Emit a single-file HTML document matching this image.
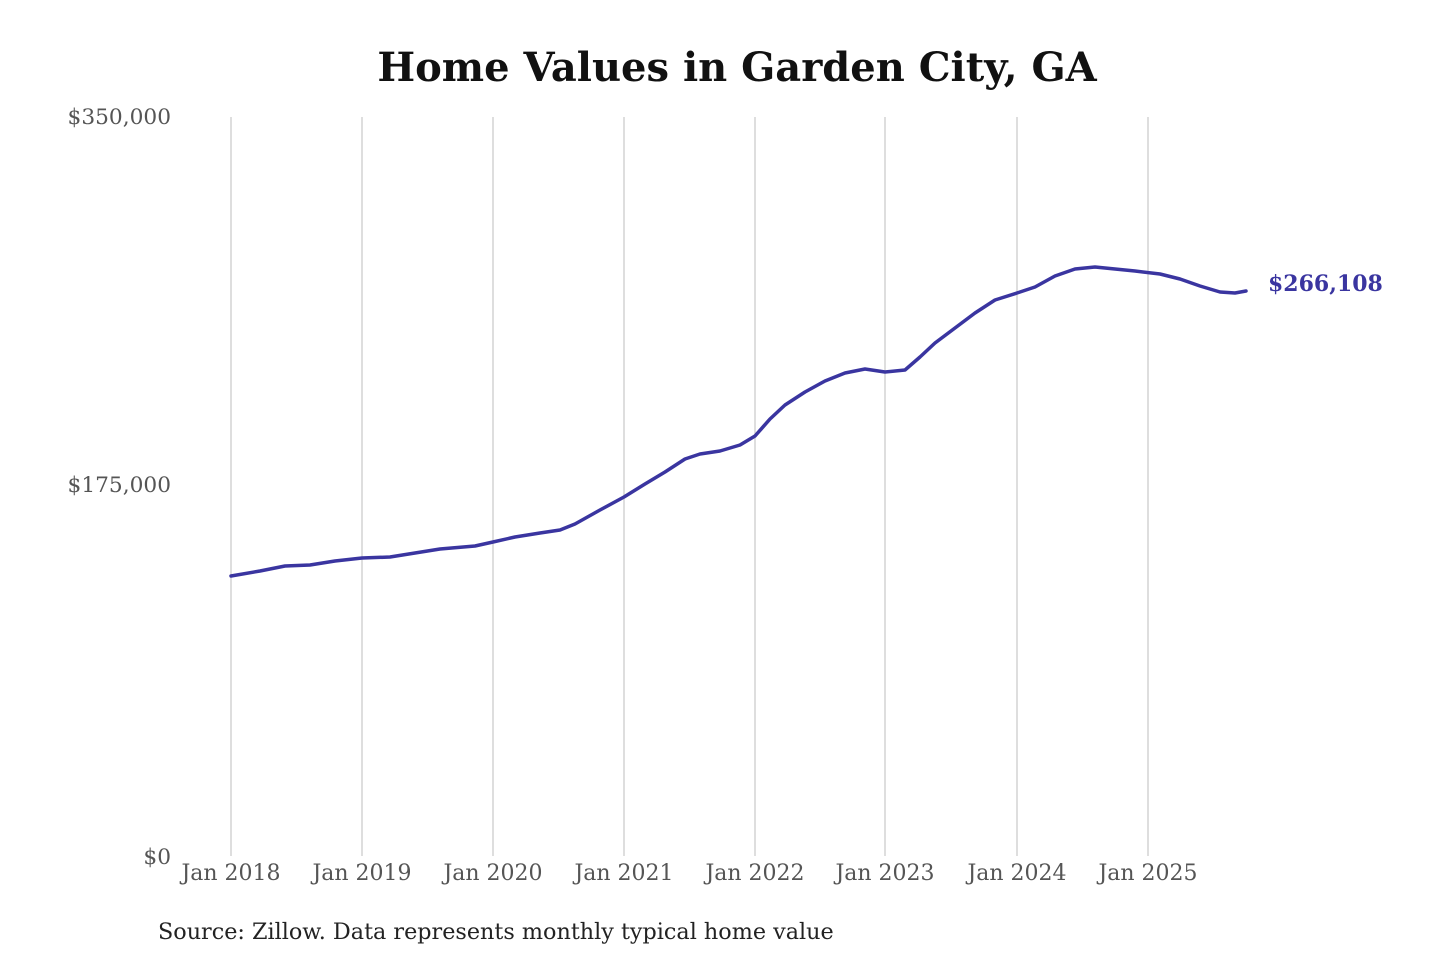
<!DOCTYPE html>
<html><head><meta charset="utf-8"><style>
html,body{margin:0;padding:0;background:#fff;}
svg{display:block;}
</style></head><body>
<svg width="1440" height="960" xmlns="http://www.w3.org/2000/svg" font-family="'DejaVu Serif','Liberation Serif',serif">
<rect width="1440" height="960" fill="#fff"/>
<text x="737" y="81" text-anchor="middle" font-size="40" font-weight="bold" fill="#111">Home Values in Garden City, GA</text>
<g stroke="#c8c8c8" stroke-width="1.2">
<line x1="231" y1="117" x2="231" y2="856"/>
<line x1="362" y1="117" x2="362" y2="856"/>
<line x1="493" y1="117" x2="493" y2="856"/>
<line x1="624" y1="117" x2="624" y2="856"/>
<line x1="755" y1="117" x2="755" y2="856"/>
<line x1="885" y1="117" x2="885" y2="856"/>
<line x1="1017" y1="117" x2="1017" y2="856"/>
<line x1="1148" y1="117" x2="1148" y2="856"/>
</g>
<g font-size="21.7" fill="#555" text-anchor="end">
<text x="171" y="124">$350,000</text>
<text x="171" y="492">$175,000</text>
<text x="171" y="864">$0</text>
</g>
<g font-size="22" fill="#555" text-anchor="middle">
<text x="231" y="880">Jan 2018</text>
<text x="362" y="880">Jan 2019</text>
<text x="493" y="880">Jan 2020</text>
<text x="624" y="880">Jan 2021</text>
<text x="755" y="880">Jan 2022</text>
<text x="885" y="880">Jan 2023</text>
<text x="1017" y="880">Jan 2024</text>
<text x="1148" y="880">Jan 2025</text>
</g>
<polyline fill="none" stroke="#3a35a0" stroke-width="3.5" stroke-linejoin="round" stroke-linecap="round" points="231,576 260,571 285,566 310,565 335,561 362,558 390,557 415,553 440,549 475,546 493,542 515,537 540,533 560,530 575,524 600,510 624,497 645,484 665,472 685,459 700,454 720,451 740,445 755,436 770,419 785,405 805,392 825,381 845,373 865,369 885,372 905,370 920,357 935,343 955,328 975,313 995,300 1017,293 1035,287 1055,276 1075,269 1095,267 1115,269 1135,271 1160,274 1180,279 1200,286 1220,292 1235,293 1246,291"/>
<text x="1268" y="291" font-size="22" font-weight="bold" fill="#3a35a0">$266,108</text>
<text x="158" y="939" font-size="22.3" fill="#222">Source: Zillow. Data represents monthly typical home value</text>
</svg>
</body></html>
